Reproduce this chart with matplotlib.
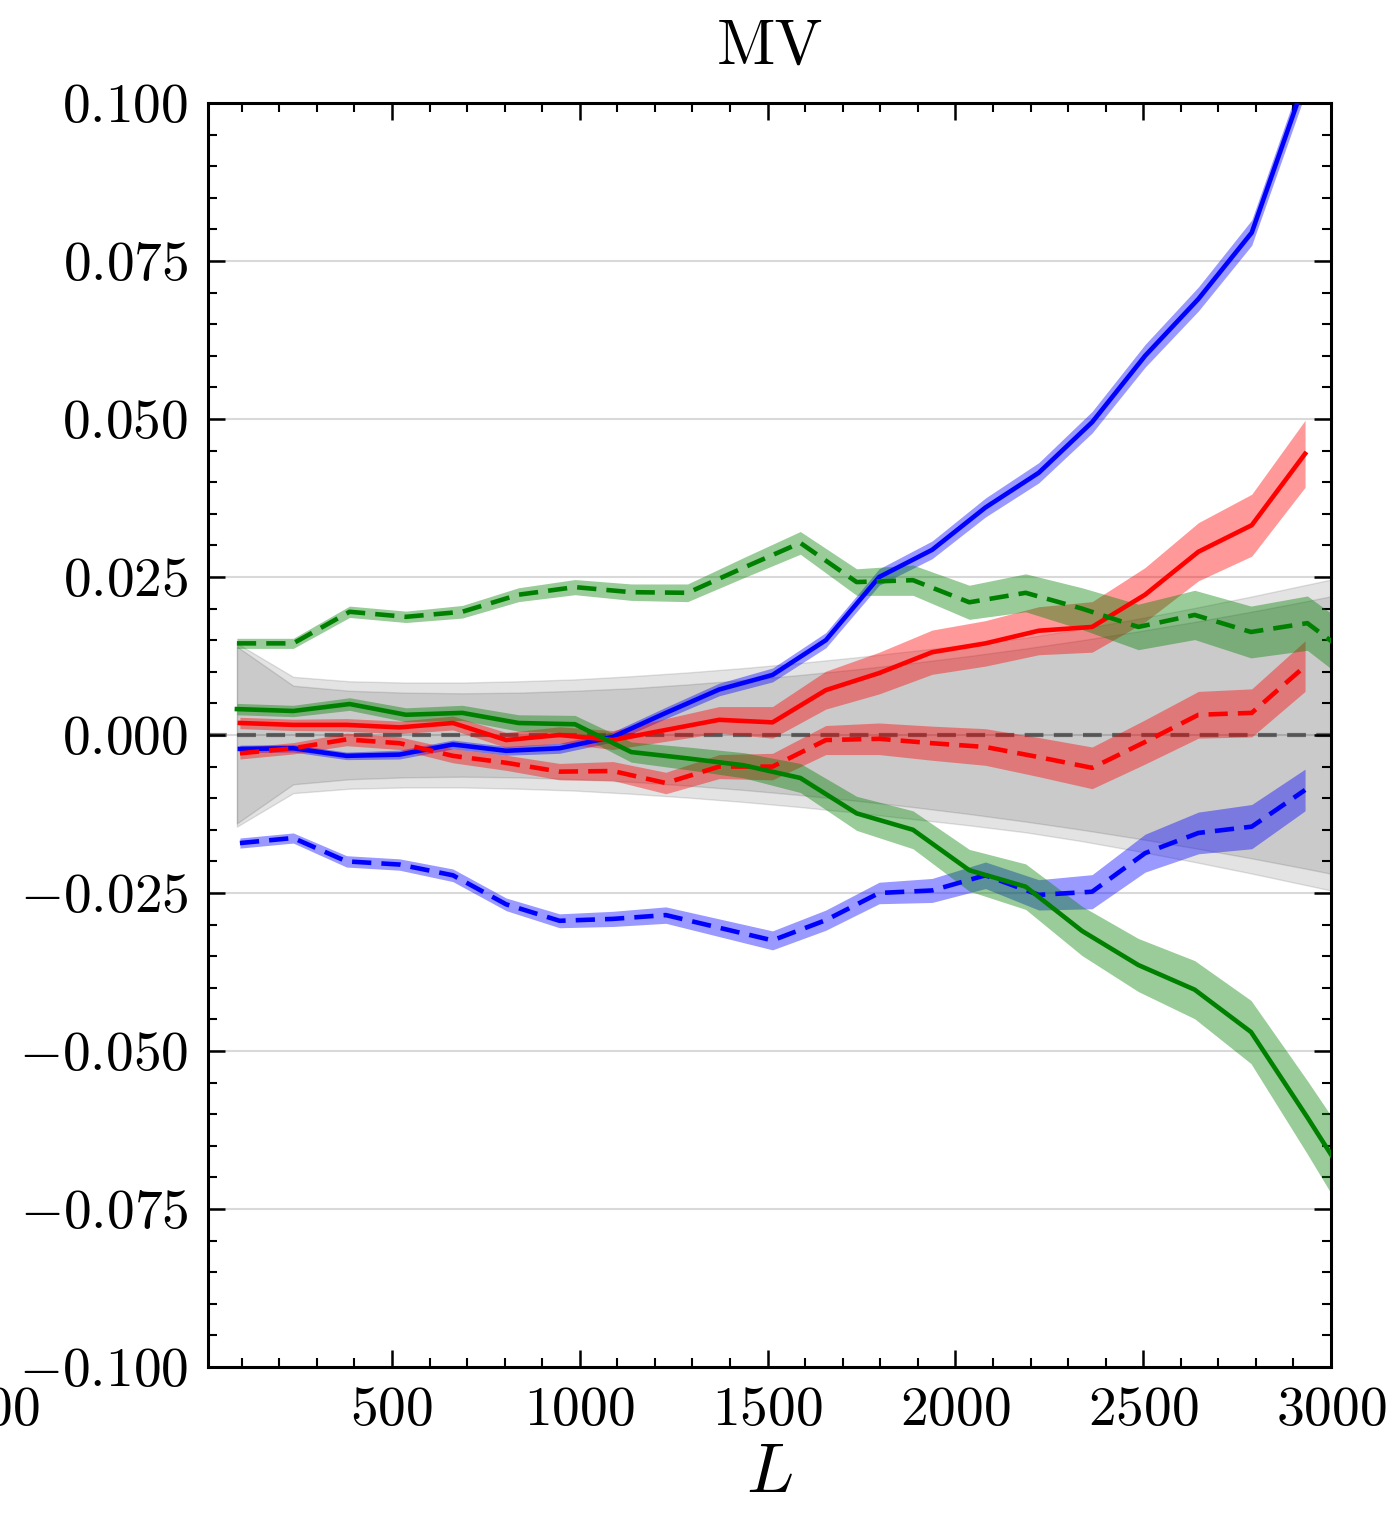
import numpy as np
import matplotlib
matplotlib.use("Agg")
import matplotlib.pyplot as plt
import matplotlib.ticker as ptick

# multipole bins (green estimator + reference band use L_a, red/blue use L_b)
L_a = np.array([87, 237, 387, 537, 687, 837, 987, 1137, 1287, 1437, 1587,
                1737, 1887, 2037, 2187, 2337, 2487, 2637, 2787, 2937, 3087])
L_b = np.array([95, 237, 379, 520, 662, 804, 946, 1088, 1229, 1371, 1513,
                1655, 1797, 1938, 2080, 2222, 2364, 2505, 2647, 2789, 2931])

# reference scatter bands (half widths)
band_outer = np.array([0.0145, 0.0092, 0.0085, 0.0083, 0.0083, 0.0085, 0.0088,
                       0.0093, 0.0099, 0.0106, 0.0114, 0.0123, 0.0133, 0.0143,
                       0.0154, 0.0168, 0.0184, 0.0201, 0.0219, 0.0238, 0.0257])
band_inner = np.array([0.0140, 0.0078, 0.0070, 0.0067, 0.0066, 0.0067, 0.0070,
                       0.0074, 0.0080, 0.0087, 0.0095, 0.0104, 0.0114, 0.0125,
                       0.0137, 0.0150, 0.0164, 0.0179, 0.0195, 0.0212, 0.0230])

blue_solid = np.array([-0.0022, -0.0021, -0.0033, -0.0031, -0.0015, -0.0025, -0.0021,
                       -0.0003, 0.0035, 0.0072, 0.0095, 0.0150, 0.0250, 0.0293,
                       0.0360, 0.0415, 0.0495, 0.0600, 0.0690, 0.0795, 0.1035])
blue_solid_err = np.array([0.0006, 0.0006, 0.0006, 0.0007, 0.0007, 0.0007, 0.0008,
                           0.0008, 0.0009, 0.0010, 0.0011, 0.0012, 0.0013, 0.0014,
                           0.0015, 0.0016, 0.0017, 0.0018, 0.0019, 0.0020, 0.0021])
blue_dash = np.array([-0.0171, -0.0163, -0.0200, -0.0205, -0.0222, -0.0268, -0.0294,
                      -0.0291, -0.0285, -0.0305, -0.0325, -0.0293, -0.0250, -0.0246,
                      -0.0222, -0.0253, -0.0248, -0.0187, -0.0155, -0.0145, -0.0087])
blue_dash_err = np.array([0.0008, 0.0008, 0.0009, 0.0009, 0.0010, 0.0010, 0.0011,
                          0.0012, 0.0013, 0.0014, 0.0015, 0.0016, 0.0017, 0.0019,
                          0.0021, 0.0024, 0.0027, 0.0030, 0.0033, 0.0035, 0.0033])

red_solid = np.array([0.0019, 0.0016, 0.0016, 0.0012, 0.0019, -0.0008, 0.0000,
                      -0.0008, 0.0008, 0.0024, 0.0020, 0.0071, 0.0098, 0.0131,
                      0.0145, 0.0165, 0.0171, 0.0222, 0.0290, 0.0332, 0.0445])
red_solid_err = np.array([0.0009, 0.0009, 0.0010, 0.0010, 0.0011, 0.0012, 0.0013,
                          0.0015, 0.0018, 0.0021, 0.0025, 0.0030, 0.0033, 0.0035,
                          0.0036, 0.0038, 0.0040, 0.0043, 0.0046, 0.0049, 0.0053])
red_dash = np.array([-0.0029, -0.0021, -0.0007, -0.0013, -0.0033, -0.0044, -0.0058,
                     -0.0057, -0.0076, -0.0050, -0.0050, -0.0008, -0.0006, -0.0013,
                     -0.0019, -0.0035, -0.0052, -0.0011, 0.0032, 0.0035, 0.0109])
red_dash_err = np.array([0.0009, 0.0009, 0.0010, 0.0010, 0.0011, 0.0012, 0.0013,
                         0.0015, 0.0017, 0.0019, 0.0021, 0.0023, 0.0025, 0.0027,
                         0.0029, 0.0031, 0.0033, 0.0035, 0.0037, 0.0038, 0.0040])

green_solid = np.array([0.0041, 0.0038, 0.0049, 0.0032, 0.0035, 0.0019, 0.0017,
                        -0.0027, -0.0037, -0.0048, -0.0068, -0.0124, -0.0150, -0.0214,
                        -0.0240, -0.0310, -0.0364, -0.0403, -0.0470, -0.0605, -0.0745])
green_solid_err = np.array([0.0009, 0.0009, 0.0010, 0.0011, 0.0012, 0.0013, 0.0014,
                            0.0016, 0.0018, 0.0020, 0.0023, 0.0027, 0.0030, 0.0033,
                            0.0036, 0.0039, 0.0042, 0.0046, 0.0050, 0.0058, 0.0066])
green_dash = np.array([0.0145, 0.0145, 0.0195, 0.0187, 0.0195, 0.0222, 0.0234,
                       0.0226, 0.0225, 0.0265, 0.0304, 0.0242, 0.0245, 0.0210,
                       0.0225, 0.0200, 0.0171, 0.0190, 0.0163, 0.0177, 0.0110])
green_dash_err = np.array([0.0008, 0.0008, 0.0009, 0.0009, 0.0010, 0.0011, 0.0012,
                           0.0013, 0.0014, 0.0016, 0.0018, 0.0021, 0.0024, 0.0027,
                           0.0030, 0.0033, 0.0036, 0.0039, 0.0041, 0.0043, 0.0045])

plt.rcParams['font.family'] = 'serif'
plt.rcParams['font.serif'] = ['cmr10']
plt.rcParams['mathtext.fontset'] = 'cm'
plt.rcParams['axes.unicode_minus'] = False

fig = plt.figure(figsize=(13.94, 15.2), dpi=100)
ax1 = fig.add_axes([0.1492, 0.1007, 0.8056, 0.8315])

# reference scatter (two overlapping grey bands)
ax1.fill_between(L_a, -band_outer, band_outer, color='k', alpha=0.11, zorder=1)
ax1.fill_between(L_a, -band_inner, band_inner, color='k', alpha=0.11, zorder=1)
ax1.axhline(0, color='k', alpha=0.5, ls=(0, (4.5, 2.5)), lw=3.0, zorder=1.5)

curves = [
    (L_b, blue_solid, blue_solid_err, 'blue', '-'),
    (L_b, blue_dash, blue_dash_err, 'blue', '--'),
    (L_b, red_solid, red_solid_err, 'red', '-'),
    (L_b, red_dash, red_dash_err, 'red', '--'),
    (L_a, green_solid, green_solid_err, 'green', '-'),
    (L_a, green_dash, green_dash_err, 'green', '--'),
]
for L, y, err, c, ls in curves:
    ax1.fill_between(L, y - err, y + err, color=c, alpha=0.4, lw=0, zorder=2)
    if ls == '--':
        ax1.plot(L, y, color=c, ls=(0, (4.2, 2.2)), lw=3.3, zorder=3)
    else:
        ax1.plot(L, y, color=c, ls=ls, lw=3.3, zorder=3)

ax1.set_xlim(10, 3000)
ax1.set_ylim(-0.1, 0.1)
ax1.xaxis.set_major_locator(ptick.MultipleLocator(500))
ax1.xaxis.set_minor_locator(ptick.MultipleLocator(100))
ax1.yaxis.set_major_locator(ptick.MultipleLocator(0.025))
ax1.yaxis.set_minor_locator(ptick.MultipleLocator(0.005))
ax1.xaxis.set_major_formatter(ptick.FuncFormatter(lambda v, p: r'$%d$' % v))
ax1.yaxis.set_major_formatter(ptick.FuncFormatter(lambda v, p: r'$%.3f$' % v))

ax1.tick_params(which='both', direction='in', top=True, right=True, labelsize=40, pad=14)
ax1.tick_params(which='major', length=12, width=1.8)
ax1.tick_params(which='minor', length=6.5, width=1.5)
for s in ax1.spines.values():
    s.set_linewidth(2.2)

ax1.yaxis.grid(True, color='0.85', lw=1.5)
ax1.set_axisbelow(True)

ax1.set_title('MV', fontsize=46, pad=28)
ax1.set_xlabel(r'$L$', fontsize=50, labelpad=6)

# tail of the neighbouring panel's last tick label
fig.text(0.0287, 0.0717, r'$3000$', fontsize=40, ha='right', va='center')

plt.savefig('out.png', dpi=100)
